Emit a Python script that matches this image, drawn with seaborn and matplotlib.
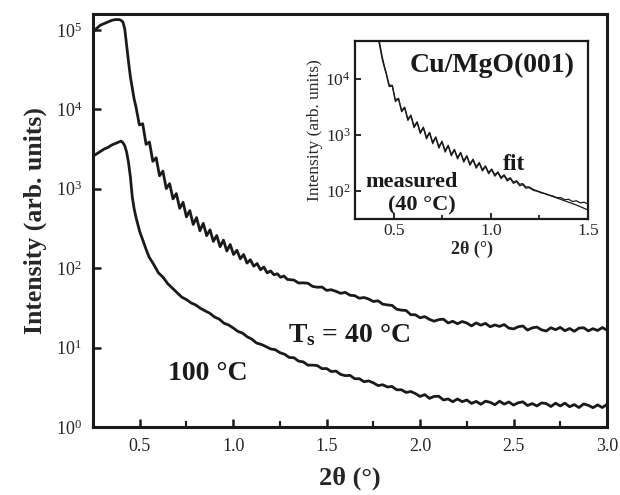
import numpy as np
import pandas as pd
import matplotlib
matplotlib.use("Agg")
import matplotlib.pyplot as plt
from matplotlib.ticker import MultipleLocator, FormatStrFormatter, LogLocator, NullLocator
import seaborn as sns

# X-ray reflectivity of Cu/MgO(001) films, values as log10(intensity)

# Ts = 40 C : region round the critical angle
t40_edge_x = [0.25, 0.27, 0.29, 0.31, 0.33, 0.35, 0.37, 0.39, 0.40, 0.41, 0.42, 0.43, 0.44, 0.45, 0.46, 0.47]
t40_edge_log = [4.97, 5.02, 5.06, 5.08, 5.10, 5.12, 5.13, 5.13, 5.12, 5.10, 5.01, 4.80, 4.60, 4.41, 4.27, 4.13]

# Ts = 40 C : Kiessig fringes (peaks and troughs)
t40_fringe_x = np.round(np.linspace(0.480, 1.290, 46), 3)
t40_fringe_log = [4.03, 3.804, 3.818, 3.559, 3.588, 3.345, 3.39, 3.163, 3.222, 3.002,
                  3.065, 2.872, 2.939, 2.753, 2.829, 2.645, 2.725, 2.55, 2.637, 2.471,
                  2.565, 2.409, 2.483, 2.337, 2.411, 2.27, 2.353, 2.216, 2.298, 2.172,
                  2.225, 2.118, 2.171, 2.064, 2.105, 2.025, 2.058, 1.98, 2.014, 1.94,
                  1.965, 1.917, 1.929, 1.885, 1.901, 1.858]

# Ts = 40 C : noisy tail
t40_tail_x = np.round(np.linspace(1.325, 3.0, 68), 3)
t40_tail_log = [1.85, 1.813, 1.815, 1.81, 1.77, 1.76, 1.762, 1.72, 1.728, 1.708,
                1.683, 1.695, 1.659, 1.654, 1.621, 1.63, 1.611, 1.58, 1.589, 1.547,
                1.537, 1.531, 1.483, 1.471, 1.467, 1.414, 1.413, 1.375, 1.39, 1.355,
                1.332, 1.352, 1.357, 1.31, 1.331, 1.30, 1.328, 1.309, 1.273, 1.31,
                1.282, 1.305, 1.262, 1.285, 1.266, 1.29, 1.245, 1.235, 1.262, 1.272,
                1.22, 1.248, 1.258, 1.223, 1.208, 1.25, 1.225, 1.254, 1.212, 1.24,
                1.205, 1.245, 1.25, 1.21, 1.238, 1.215, 1.252, 1.22]

# Ts = 100 C
t100_edge_x = [0.25, 0.27, 0.29, 0.31, 0.33, 0.35, 0.37, 0.39, 0.40, 0.41, 0.42, 0.43, 0.44, 0.45,
               0.46, 0.47, 0.48, 0.50, 0.52, 0.535]
t100_edge_log = [3.41, 3.44, 3.47, 3.50, 3.52, 3.55, 3.57, 3.59, 3.60, 3.58, 3.54, 3.46, 3.33, 3.15,
                 2.90, 2.75, 2.64, 2.46, 2.33, 2.23]
t100_tail_x = np.round(np.linspace(0.55, 3.0, 99), 3)
t100_tail_log = [2.14, 2.046, 1.941, 1.885, 1.804, 1.748, 1.691, 1.635, 1.604, 1.562,
                 1.536, 1.494, 1.462, 1.432, 1.385, 1.359, 1.308, 1.285, 1.247, 1.204,
                 1.182, 1.136, 1.106, 1.057, 1.04, 1.013, 0.983, 0.973, 0.936, 0.916,
                 0.875, 0.872, 0.829, 0.82, 0.778, 0.779, 0.773, 0.735, 0.736, 0.698,
                 0.704, 0.662, 0.646, 0.65, 0.608, 0.608, 0.57, 0.58, 0.556, 0.521,
                 0.532, 0.504, 0.51, 0.468, 0.469, 0.435, 0.447, 0.421, 0.384, 0.408,
                 0.36, 0.385, 0.387, 0.34, 0.353, 0.318, 0.353, 0.319, 0.34, 0.297,
                 0.322, 0.286, 0.325, 0.311, 0.28, 0.325, 0.288, 0.315, 0.276, 0.305,
                 0.317, 0.27, 0.295, 0.265, 0.303, 0.295, 0.258, 0.30, 0.265, 0.30,
                 0.255, 0.282, 0.245, 0.29, 0.273, 0.243, 0.278, 0.245, 0.284]

# inset: measured (40 C) and fit
ins_edge_x = [0.38, 0.40, 0.42, 0.44, 0.45]
ins_meas_edge_log = [5.30, 5.05, 4.72, 4.36, 4.22]
ins_fit_edge_log = [5.40, 5.10, 4.78, 4.40, 4.25]
ins_fringe_x = np.round(np.linspace(0.46, 1.196, 47), 3)
ins_meas_fringe_log = [4.10, 3.865, 3.875, 3.599, 3.645, 3.415, 3.485, 3.261, 3.343, 3.131,
                       3.225, 3.027, 3.129, 2.931, 3.035, 2.845, 2.955, 2.765, 2.879, 2.695,
                       2.805, 2.628, 2.731, 2.573, 2.677, 2.515, 2.617, 2.459, 2.556, 2.408,
                       2.495, 2.357, 2.434, 2.308, 2.379, 2.265, 2.326, 2.222, 2.273, 2.179,
                       2.22, 2.136, 2.167, 2.093, 2.114, 2.05, 2.06]
ins_fit_fringe_log = [4.12, 3.892, 3.888, 3.626, 3.658, 3.442, 3.498, 3.288, 3.356, 3.158,
                      3.238, 3.054, 3.142, 2.958, 3.048, 2.872, 2.968, 2.792, 2.892, 2.722,
                      2.818, 2.655, 2.745, 2.599, 2.691, 2.541, 2.631, 2.485, 2.57, 2.434,
                      2.51, 2.382, 2.449, 2.333, 2.394, 2.29, 2.342, 2.246, 2.29, 2.207,
                      2.237, 2.159, 2.184, 2.12, 2.132, 2.072, 2.074]
ins_tail_x = np.round(np.linspace(1.22, 1.50, 15), 3)
ins_meas_tail_log = [2.01, 1.995, 1.965, 1.952, 1.925, 1.91, 1.88, 1.882, 1.845, 1.852,
                     1.812, 1.825, 1.788, 1.80, 1.765]
ins_fit_tail_log = [2.025, 2.00, 1.975, 1.95, 1.925, 1.90, 1.875, 1.85, 1.825, 1.80,
                    1.775, 1.75, 1.72, 1.69, 1.66]


def make_df(xs, logs):
    x = np.concatenate([np.asarray(a, dtype=float) for a in xs])
    y = 10 ** np.concatenate([np.asarray(a, dtype=float) for a in logs])
    return pd.DataFrame({"two_theta": x, "intensity": y})


df40 = make_df([t40_edge_x, t40_fringe_x, t40_tail_x], [t40_edge_log, t40_fringe_log, t40_tail_log])
df100 = make_df([t100_edge_x, t100_tail_x], [t100_edge_log, t100_tail_log])
df_meas = make_df([ins_edge_x, ins_fringe_x, ins_tail_x], [ins_meas_edge_log, ins_meas_fringe_log, ins_meas_tail_log])
df_fit = make_df([ins_edge_x, ins_fringe_x, ins_tail_x], [ins_fit_edge_log, ins_fit_fringe_log, ins_fit_tail_log])

sns.set_style("ticks")
plt.rcParams["font.family"] = ["Liberation Serif", "DejaVu Serif"]
plt.rcParams["mathtext.fontset"] = "custom"
plt.rcParams["mathtext.rm"] = "Liberation Serif"
plt.rcParams["mathtext.bf"] = "Liberation Serif:bold"
plt.rcParams["mathtext.it"] = "Liberation Serif:italic"

ink = "#1a1a1a"
fig = plt.figure(figsize=(6.2, 4.95), dpi=100)
ax = fig.add_axes([0.150, 0.1374, 0.829, 0.8343])

sns.lineplot(data=df40, x="two_theta", y="intensity", ax=ax, color=ink, lw=2.0, sort=False, estimator=None)
sns.lineplot(data=df100, x="two_theta", y="intensity", ax=ax, color=ink, lw=2.0, sort=False, estimator=None)
ax.set_yscale("log")
ax.set_xlim(0.25, 3.0)
ax.set_ylim(1, 10 ** 5.2)
ax.xaxis.set_major_locator(MultipleLocator(0.5))
ax.xaxis.set_minor_locator(MultipleLocator(0.25))
ax.xaxis.set_major_formatter(FormatStrFormatter("%.1f"))
ax.yaxis.set_major_locator(LogLocator(base=10, numticks=10))
ax.yaxis.set_minor_locator(NullLocator())
ax.tick_params(which="both", direction="in", top=False, right=False, labelsize=13, color=ink)
ax.tick_params(which="major", length=6, width=1.8, pad=8)
ax.tick_params(which="minor", length=4, width=1.5)
for s in ax.spines.values():
    s.set_linewidth(2.2)
    s.set_color(ink)
ax.set_xlabel("2θ (°)", fontsize=19, fontweight="bold", labelpad=8)
ax.set_ylabel("Intensity (arb. units)", fontsize=18.5, fontweight="bold", labelpad=6)

ax.text(1.294, 10 ** 1.07, r"$\mathbf{T_s}$ = 40 °C", fontsize=20, fontweight="bold", va="baseline", color=ink)
ax.text(0.652, 10 ** 0.59, "100 °C", fontsize=20, fontweight="bold", va="baseline", color=ink)

# inset
ins = fig.add_axes([0.5726, 0.5576, 0.3758, 0.3596])
sns.lineplot(data=df_meas, x="two_theta", y="intensity", ax=ins, color=ink, lw=0.9, sort=False, estimator=None)
sns.lineplot(data=df_fit, x="two_theta", y="intensity", ax=ins, color=ink, lw=0.9, sort=False, estimator=None)
ins.set_yscale("log")
ins.set_xlim(0.3, 1.5)
ins.set_ylim(10 ** 1.5, 10 ** 4.68)
ins.xaxis.set_major_locator(MultipleLocator(0.5))
ins.xaxis.set_minor_locator(MultipleLocator(0.25))
ins.xaxis.set_major_formatter(FormatStrFormatter("%.1f"))
ins.yaxis.set_major_locator(LogLocator(base=10, numticks=10))
ins.yaxis.set_minor_locator(NullLocator())
ins.tick_params(which="both", direction="in", top=False, right=False, labelsize=12.5, color=ink)
ins.tick_params(which="major", length=4, width=1.3, pad=3)
ins.tick_params(which="minor", length=3, width=1.2)
for s in ins.spines.values():
    s.set_linewidth(1.6)
    s.set_color(ink)
ins.set_xlabel("2θ (°)", fontsize=13, fontweight="bold", labelpad=1)
ins.set_ylabel("Intensity (arb. units)", fontsize=12.5, labelpad=2)

ins.text(0.583, 10 ** 4.125, "Cu/MgO(001)", fontsize=20, fontweight="bold", va="baseline", color=ink)
ins.text(1.062, 10 ** 2.375, "fit", fontsize=17, fontweight="bold", va="baseline", color=ink)
ins.text(0.351, 10 ** 2.07, "measured", fontsize=16, fontweight="bold", va="baseline", color=ink)
ins.text(0.47, 10 ** 1.66, "(40 °C)", fontsize=16, fontweight="bold", va="baseline", color=ink)

fig.savefig("out.png", dpi=100)
